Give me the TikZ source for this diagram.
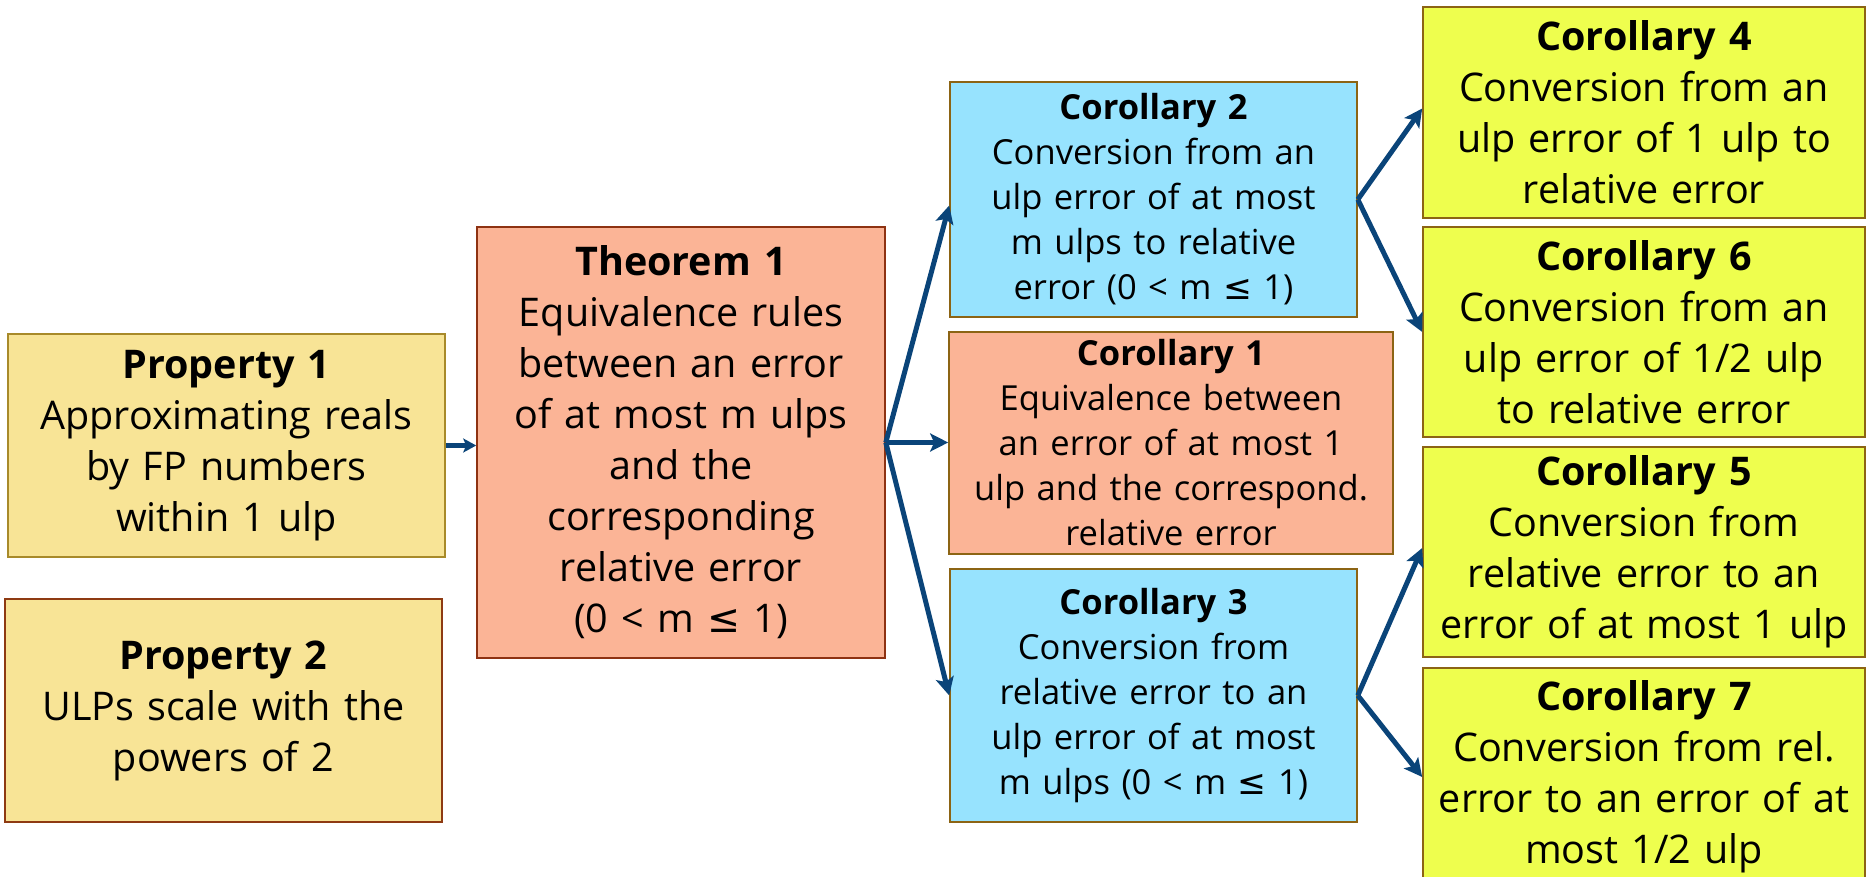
\documentclass[tikz,border=0pt]{standalone}
\usepackage{fontspec}
\setmainfont{Open Sans}
\newfontfamily\symfont{DejaVu Sans}
\newcommand{\leqsym}{{\symfont ≤}}
\usetikzlibrary{arrows.meta}
\definecolor{propfill}{HTML}{F8E496}
\definecolor{propdraw}{HTML}{A88A2A}
\definecolor{proptwodraw}{HTML}{8E3A12}
\definecolor{thmfill}{HTML}{FBB496}
\definecolor{thmdraw}{HTML}{8E3212}
\definecolor{bluefill}{HTML}{97E3FE}
\definecolor{cordraw}{HTML}{8C6414}
\definecolor{yelfill}{HTML}{EEFE4E}
\definecolor{arrowblue}{HTML}{0A4479}
\begin{document}
\begin{tikzpicture}[x=1pt,y=-1pt,
  box/.style={draw, line width=1.6pt, align=center, inner sep=0pt},
  bigbox/.style={box, font=\fontsize{39.5}{51}\selectfont},
  smallbox/.style={box, font=\fontsize{34.5}{45}\selectfont},
  conn/.style={draw=arrowblue, line width=5pt, -{Stealth[length=18pt,width=18pt,inset=4pt]}},
  shortconn/.style={draw=arrowblue, line width=4.5pt, -{Stealth[length=13pt,width=14pt,inset=3pt]}}
]
\useasboundingbox (0,0) rectangle (1866,877);
\clip (0,0) rectangle (1866,877);

\node[bigbox, fill=propfill, draw=propdraw, minimum width=437pt, minimum height=223pt, text width=431pt] (p1) at (226.5,445.5)
  {\textbf{Property 1}\\Approximating reals\\by FP numbers\\within 1 ulp};
\node[bigbox, fill=propfill, draw=proptwodraw, minimum width=437pt, minimum height=223pt, text width=431pt] (p2) at (223.5,710.5)
  {\textbf{Property 2}\\ULPs scale with the\\powers of 2};
\node[bigbox, fill=thmfill, draw=thmdraw, minimum width=408pt, minimum height=431pt, text width=402pt] (t1) at (681,442.5)
  {\textbf{Theorem 1}\\Equivalence rules\\between an error\\of at most m ulps\\and the\\corresponding\\relative error\\(0 < m \leqsym{} 1)};

\node[smallbox, fill=bluefill, draw=cordraw, minimum width=407pt, minimum height=235pt, text width=401pt] (c2) at (1153.5,199.5)
  {\textbf{Corollary 2}\\Conversion from an\\ulp error of at most\\m ulps to relative\\error (0 < m \leqsym{} 1)};
\node[smallbox, fill=thmfill, draw=cordraw, minimum width=444pt, minimum height=222pt, text width=440pt] (c1) at (1171,443)
  {\textbf{Corollary 1}\\Equivalence between\\an error of at most 1\\ulp and the correspond.\\relative error};
\node[smallbox, fill=bluefill, draw=cordraw, minimum width=407pt, minimum height=253pt, text width=401pt] (c3) at (1153.5,695.5)
  {\textbf{Corollary 3}\\Conversion from\\relative error to an\\ulp error of at most\\m ulps (0 < m \leqsym{} 1)};

\node[bigbox, fill=yelfill, draw=cordraw, minimum width=442pt, minimum height=211pt, text width=438pt] (c4) at (1644,112.5)
  {\textbf{Corollary 4}\\Conversion from an\\ulp error of 1 ulp to\\relative error};
\node[bigbox, fill=yelfill, draw=cordraw, minimum width=442pt, minimum height=210pt, text width=438pt] (c6) at (1644,332)
  {\textbf{Corollary 6}\\Conversion from an\\ulp error of 1/2 ulp\\to relative error};
\node[bigbox, fill=yelfill, draw=cordraw, minimum width=442pt, minimum height=210pt, text width=438pt] (c5) at (1644,552)
  {\textbf{Corollary 5}\\Conversion from\\relative error to an\\error of at most 1 ulp};
\node[bigbox, fill=yelfill, draw=cordraw, minimum width=442pt, minimum height=218pt, text width=438pt] (c7) at (1644,777)
  {\textbf{Corollary 7}\\Conversion from rel.\\error to an error of at\\most 1/2 ulp};

\draw[shortconn] (p1.east) -- (p1.east -| t1.west);
\draw[conn] (t1.east) -- ([yshift=-6pt]c2.west);
\draw[conn] (t1.east) -- (t1.east -| c1.west);
\draw[conn] (t1.east) -- (c3.west);
\draw[conn] (c2.east) -- ([yshift=4pt]c4.west);
\draw[conn] (c2.east) -- (c6.west);
\draw[conn] (c3.east) -- ([yshift=4pt]c5.west);
\draw[conn] (c3.east) -- (c7.west);
\end{tikzpicture}
\end{document}
